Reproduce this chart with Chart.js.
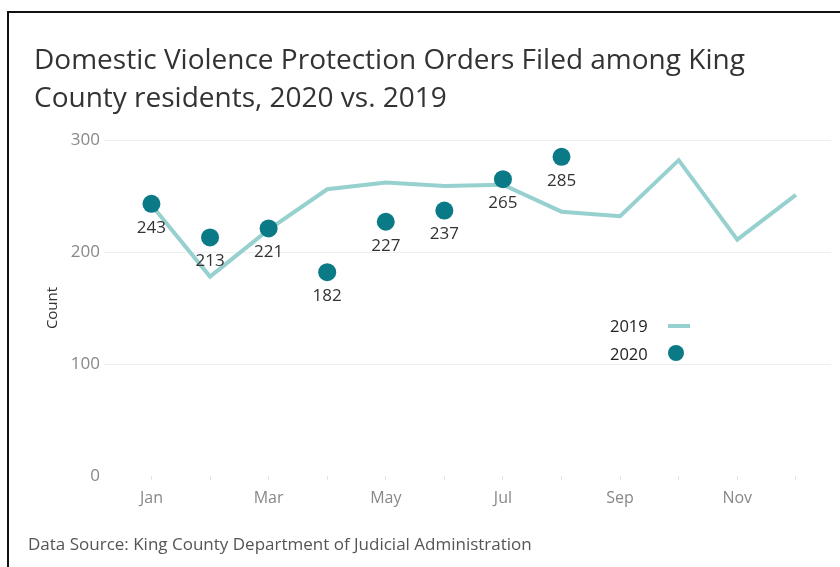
<!DOCTYPE html>
<html>
<head>
<meta charset="utf-8">
<script src="https://cdn.jsdelivr.net/npm/chart.js@4"></script>
<style>
  body { margin: 0; background: #fff; font-family: "Open Sans", sans-serif; }
  #wrap { position: relative; width: 840px; height: 567px; overflow: hidden; }
  #frame { position: absolute; left: 7px; top: 11px; width: 840px; height: 570px;
           border-top: 2px solid #111; border-left: 2px solid #111; }
  #title { position: absolute; left: 34px; top: 39px; font-size: 28px; line-height: 38px;
           color: #333; }
  #source { position: absolute; left: 28px; top: 532px; font-size: 17px; color: #555; }
  .leg { position: absolute; font-size: 16.5px; color: #222; }
  canvas { position: absolute; left: 0; top: 0; }
</style>
</head>
<body>
<div id="wrap">
  <div id="frame"></div>
  <canvas id="graph" width="840" height="567"></canvas>
  <div id="title">Domestic Violence Protection Orders Filed among King<br>County residents, 2020 vs. 2019</div>
  <div class="leg" style="left:610px; top:314px;">2019</div>
  <div style="position:absolute; left:668px; top:324px; width:22px; height:4px; background:#96d1cf;"></div>
  <div class="leg" style="left:610px; top:342px;">2020</div>
  <div style="position:absolute; left:668px; top:345px; width:16px; height:16px; border-radius:50%; background:#0b7a87;"></div>
  <div id="source">Data Source: King County Department of Judicial Administration</div>
</div>
<script>
var months = ['Jan', 'Feb', 'Mar', 'Apr', 'May', 'Jun', 'Jul', 'Aug', 'Sep', 'Oct', 'Nov', 'Dec'];
var counts2019 = [242, 178, 220, 256, 262, 259, 260, 236, 232, 282, 211, 251];
var counts2020 = [243, 213, 221, 182, 227, 237, 265, 285];
var yTicks = [0, 100, 200, 300];

// labels under the 2020 dots
var pointLabels = {
  id: 'pointLabels',
  afterDatasetsDraw: function(chart) {
    var ctx = chart.ctx;
    var meta = chart.getDatasetMeta(1);
    ctx.save();
    ctx.font = '17px "Open Sans"';
    ctx.fillStyle = '#333';
    ctx.textAlign = 'center';
    ctx.textBaseline = 'middle';
    meta.data.forEach(function(pt, i) {
      ctx.fillText(String(counts2020[i]), pt.x, pt.y + 24);
    });
    ctx.restore();
  }
};

var ctx = document.getElementById('graph').getContext('2d');
window.myChart = new Chart(ctx, {
  type: 'line',
  data: {
    datasets: [{
      label: '2019',
      data: counts2019.map(function(v, i) { return { x: i, y: v }; }),
      borderColor: '#96d1cf',
      borderWidth: 4,
      pointRadius: 0,
      tension: 0,
      order: 2
    },
    {
      label: '2020',
      data: counts2020.map(function(v, i) { return { x: i, y: v }; }),
      showLine: false,
      pointRadius: 9,
      pointBackgroundColor: '#0b7a87',
      pointBorderWidth: 0,
      order: 1
    }]
  },
  options: {
    responsive: false,
    animation: false,
    layout: { padding: { top: 140, left: 40, right: 0, bottom: 0 } },
    plugins: {
      legend: { display: false },
      tooltip: { enabled: false }
    },
    scales: {
      x: {
        type: 'linear',
        min: -0.81,
        max: 11.6,
        border: { display: false },
        grid: { drawOnChartArea: false, drawTicks: true, tickLength: 4, color: '#e4e4e4' },
        afterBuildTicks: function(scale) {
          scale.ticks = months.map(function(m, i) { return { value: i }; });
        },
        afterFit: function(scale) { scale.height = 91; },
        ticks: {
          autoSkip: false,
          maxRotation: 0,
          padding: 9,
          color: '#888',
          font: { family: 'Open Sans', size: 16 },
          callback: function(v) { return v % 2 === 0 ? months[v] : ''; }
        }
      },
      y: {
        min: 0,
        max: 300,
        border: { display: false },
        afterBuildTicks: function(scale) {
          scale.ticks = yTicks.map(function(v) { return { value: v }; });
        },
        afterFit: function(scale) { scale.width = 64; },
        grid: {
          drawTicks: false,
          color: function(c) { return c.tick && c.tick.value === 0 ? 'rgba(0,0,0,0)' : '#eeeeee'; }
        },
        title: {
          display: true,
          text: 'Count',
          color: '#333',
          font: { family: 'Open Sans', size: 15 }
        },
        ticks: {
          padding: 4,
          color: '#888',
          font: { family: 'Open Sans', size: 17 }
        }
      }
    }
  },
  plugins: [pointLabels]
});
</script>
</body>
</html>
